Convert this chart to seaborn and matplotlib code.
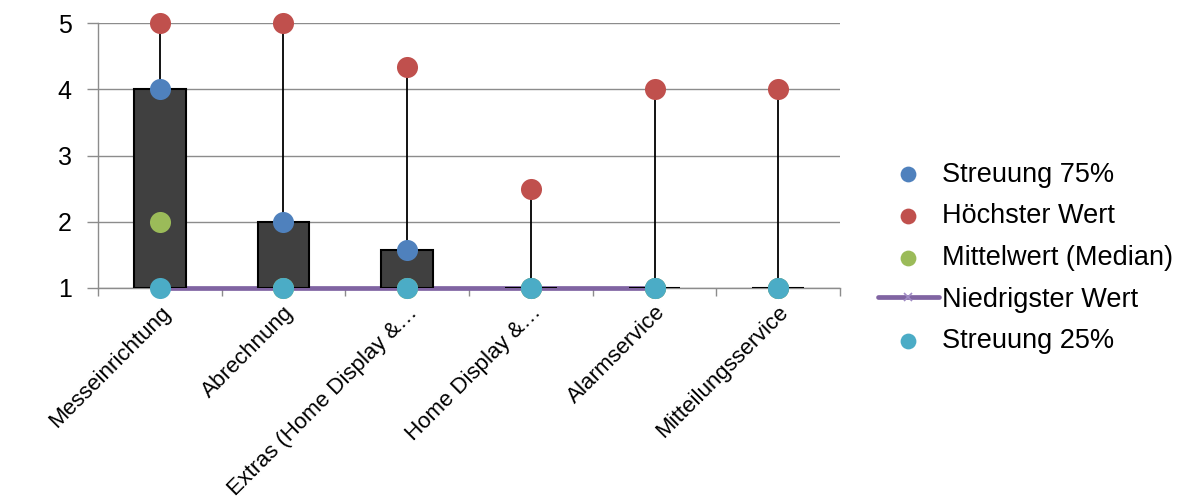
import numpy as np
import pandas as pd
import matplotlib
matplotlib.use("Agg")
import matplotlib.pyplot as plt
import seaborn as sns

# Category names and the five statistics per category
categories = [
    "Messeinrichtung",
    "Abrechnung",
    "Extras (Home Display &…",
    "Home Display &…",
    "Alarmservice",
    "Mitteilungsservice",
]
q75 = [4, 2, 1.58, 1, 1, 1]
high = [5, 5, 4.33, 2.5, 4, 4]
median = [2, 1, 1, 1, 1, 1]
low = [1, 1, 1, 1, 1, np.nan]
q25 = [1, 1, 1, 1, 1, 1]
y_ticks = [1, 2, 3, 4, 5]

C_BLUE = "#4F81BD"
C_RED = "#C0504D"
C_GREEN = "#9BBB59"
C_PURPLE = "#8064A2"
C_CYAN = "#4BACC6"
C_GRID = "#8C8C8C"

sns.set_theme(style="white")
plt.rcParams["font.family"] = ["Liberation Sans", "DejaVu Sans"]
plt.rcParams["text.color"] = "black"
plt.rcParams["xtick.labelcolor"] = "black"
plt.rcParams["ytick.labelcolor"] = "black"

df = pd.DataFrame({
    "Kategorie": categories,
    "q75": q75, "high": high, "median": median, "low": low, "q25": q25,
})

fig = plt.figure(figsize=(11.89, 4.98), dpi=100)
ax = fig.add_axes([0.0824, 0.4217, 0.6241, 0.5321])

# Box from 25% to 75% quantile
ax.bar(df["Kategorie"], df["q75"] - df["q25"], bottom=df["q25"], width=0.42,
       color="#404040", edgecolor="black", linewidth=1.5, zorder=3)

# High-low line spanning all values of each category
stats = df[["q75", "high", "median", "low", "q25"]]
ax.vlines(df["Kategorie"], stats.min(axis=1), stats.max(axis=1),
          color="black", linewidth=1.3, zorder=2)

# Lowest values as a connected line
sns.lineplot(data=df, x="Kategorie", y="low", ax=ax, color=C_PURPLE, linewidth=3.4,
             marker="x", markersize=8, markeredgecolor="#A08BC4", markeredgewidth=1.2,
             sort=False, zorder=2.6, label="Niedrigster Wert")

point_kw = dict(s=230, linewidth=0, clip_on=False, legend=False)
sns.scatterplot(data=df, x="Kategorie", y="q75", color=C_BLUE, ax=ax, zorder=4,
                label="Streuung 75%", **point_kw)
sns.scatterplot(data=df, x="Kategorie", y="high", color=C_RED, ax=ax, zorder=4,
                label="Höchster Wert", **point_kw)
sns.scatterplot(data=df, x="Kategorie", y="median", color=C_GREEN, ax=ax, zorder=4,
                label="Mittelwert (Median)", **point_kw)
sns.scatterplot(data=df, x="Kategorie", y="q25", color=C_CYAN, ax=ax, zorder=5,
                label="Streuung 25%", **point_kw)

# Keep the line on the bottom border fully visible
for ln in ax.get_lines():
    ln.set_clip_on(False)
    ln.set_clip_path(None)

n = len(categories)
ax.set_xlim(-0.5, n - 0.5)
ax.set_ylim(y_ticks[0], y_ticks[-1])
ax.set_yticks(y_ticks)
ax.set_yticklabels([str(v) for v in y_ticks], fontsize=18, color="black")
ax.set_xticks(range(n))
ax.set_xticklabels(categories, rotation=45, ha="right", rotation_mode="anchor",
                   fontsize=16, color="black")
ax.set_xticks(np.arange(-0.5, n, 1.0), minor=True)
ax.set_xlabel("")
ax.set_ylabel("")

ax.grid(axis="y", color=C_GRID, linewidth=1.0, zorder=0)
ax.set_axisbelow(True)
for side in ["top", "right"]:
    ax.spines[side].set_visible(False)
for side in ["left", "bottom"]:
    ax.spines[side].set_color(C_GRID)
    ax.spines[side].set_linewidth(1.0)
    ax.spines[side].set_zorder(1)
ax.tick_params(axis="y", which="major", length=8, color=C_GRID, width=1, pad=11, left=True)
ax.tick_params(axis="x", which="major", length=0, pad=10)
ax.tick_params(axis="x", which="minor", length=6, color=C_GRID, width=1, bottom=True)

handles, labels = ax.get_legend_handles_labels()
if ax.get_legend() is not None:
    ax.get_legend().remove()
order = ["Streuung 75%", "Höchster Wert", "Mittelwert (Median)", "Niedrigster Wert", "Streuung 25%"]
hmap = dict(zip(labels, handles))
leg = fig.legend([hmap[k] for k in order], order, loc="center left",
                 bbox_to_anchor=(878 / 1189, 1 - 258 / 498), frameon=False, fontsize=19.5,
                 handlelength=2.25, handletextpad=0.12, labelspacing=0.58, borderpad=0,
                 borderaxespad=0, markerscale=0.75)
for t in leg.get_texts():
    t.set_color("black")

fig.savefig("out.png", dpi=100)
